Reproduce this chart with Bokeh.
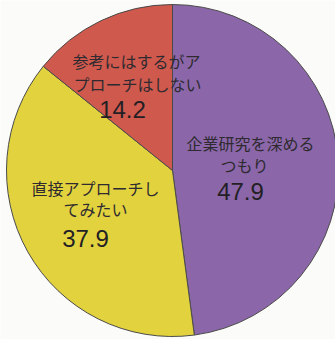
import math
from bokeh.plotting import figure
from bokeh.models import Range1d, ColumnDataSource
from bokeh.core.properties import value
from bokeh.embed import file_html
from bokeh.resources import INLINE

# data (clockwise from 12 o'clock)
categories = ["企業研究を深めるつもり", "直接アプローチしてみたい", "参考にはするがアプローチはしない"]
label_lines = [["企業研究を深める", "つもり"], ["直接アプローチし", "てみたい"], ["参考にはするがア", "プローチはしない"]]
values = [47.9, 37.9, 14.2]
colors = ["#8B67AA", "#E2D33E", "#D0594D"]

W, H = 335, 339
p = figure(width=W, height=H, output_backend="svg", toolbar_location=None,
           x_range=Range1d(0, W), y_range=Range1d(0, H), min_border=0)
p.axis.visible = False
p.grid.visible = False
p.outline_line_color = None
p.background_fill_color = "#FBFBF9"
p.border_fill_color = "#FBFBF9"

cx, cy, r = 172, H - 170, 166
total = sum(values)
starts, ends = [], []
acc = 0.0
for v in values:
    a0 = math.pi / 2 - 2 * math.pi * acc / total
    acc += v
    a1 = math.pi / 2 - 2 * math.pi * acc / total
    starts.append(a0)
    ends.append(a1)

src = ColumnDataSource(dict(start=starts, end=ends, color=colors))
p.wedge(x=cx, y=cy, radius=r, start_angle="start", end_angle="end", direction="clock",
        fill_color="color", line_color="#4a4a4a", line_width=1, source=src)

# label placement (pixel coords of line centres)
line_pos = [[(250, 142), (244, 164)], [(95, 187), (95, 208)], [(136, 60), (137, 83)]]
num_pos = [(240, 191), (85, 238), (122, 109)]

for lines, pos in zip(label_lines, line_pos):
    for t, (x, y) in zip(lines, pos):
        p.text(x=[x], y=[H - y], text=[t], text_align="center", text_baseline="middle",
               text_font=value("Noto Sans CJK JP"), text_font_size="16px", text_color="#2e2a30")
for v, (x, y) in zip(values, num_pos):
    p.text(x=[x], y=[H - y], text=[f"{v:.1f}"], text_align="center", text_baseline="middle",
           text_font=value("Liberation Sans"), text_font_size="24px", text_color="#231f24")

open("out.html", "w").write(file_html(p, INLINE))
